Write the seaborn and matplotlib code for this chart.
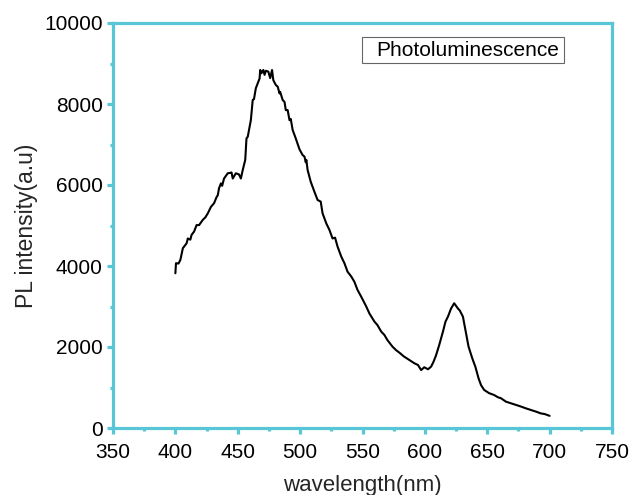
import matplotlib
matplotlib.use("Agg")
import matplotlib.pyplot as plt
import seaborn as sns
import pandas as pd
from matplotlib.patches import Rectangle
from matplotlib.ticker import MultipleLocator

wavelength = [400, 400.5, 402.5, 404, 406, 407, 409, 410, 412, 413, 415, 417, 419, 422, 424, 426,
              428.5, 431, 433, 434, 435, 436.5, 437.5, 438, 439, 442, 444, 445, 446, 448.5, 451,
              452.5, 454, 456, 457, 458, 460.5, 462, 463, 464.5, 466, 467.5, 468, 469, 470.5,
              471.5, 472.5, 474.5, 476, 477.5, 478.5, 480.5, 482, 483.5, 484, 486, 487.5, 488.5,
              490, 491.5, 492.5, 494, 496.5, 499.5, 502, 503.5, 504.5, 505, 506, 508.5, 511.5,
              514, 516.5, 518, 521, 523.5, 526, 528, 530, 533, 535.5, 538, 541, 543.5, 546, 549,
              553, 555.5, 559.5, 562, 565, 567.5, 570, 574, 577, 580, 583, 585.5, 587.5, 591.5,
              594.5, 597, 599.5, 602.5, 605, 607, 609, 611.5, 614.5, 616.5, 618.5, 621, 623.5,
              626.5, 628, 630.5, 632.5, 635, 638, 640.5, 643, 645, 647.5, 651.5, 655.5, 658.5,
              661, 665, 669, 673, 677, 681, 685, 689, 693, 696, 700]
intensity = [3820, 4070, 4060, 4150, 4440, 4480, 4560, 4680, 4650, 4770, 4850, 5010, 5010, 5140,
             5200, 5300, 5460, 5550, 5700, 5750, 5920, 6040, 5980, 6040, 6160, 6290, 6300, 6310,
             6160, 6290, 6260, 6160, 6370, 6620, 7150, 7190, 7600, 8100, 8120, 8390, 8510, 8630,
             8840, 8760, 8840, 8720, 8820, 8800, 8640, 8840, 8590, 8470, 8430, 8260, 8300, 8100,
             8050, 7850, 7850, 7600, 7630, 7360, 7150, 6880, 6740, 6700, 6560, 6620, 6370, 6080,
             5830, 5630, 5590, 5300, 5050, 4890, 4680, 4700, 4480, 4230, 4070, 3860, 3740, 3610,
             3410, 3240, 3000, 2830, 2630, 2540, 2380, 2300, 2170, 2010, 1920, 1850, 1770, 1720,
             1680, 1600, 1555, 1430, 1500, 1450, 1515, 1640, 1800, 2050, 2380, 2625, 2750, 2950,
             3080, 2950, 2900, 2750, 2420, 2010, 1720, 1510, 1230, 1060, 940, 860, 815, 760, 735,
             650, 610, 570, 530, 485, 445, 405, 360, 345, 300]

x_ticks = [350, 400, 450, 500, 550, 600, 650, 700, 750]
y_ticks = [0, 2000, 4000, 6000, 8000, 10000]
legend_label = "Photoluminescence"

df = pd.DataFrame({"wavelength": wavelength, "intensity": intensity})

sns.set_style("white")
plt.rcParams["font.family"] = ["Liberation Sans", "DejaVu Sans"]

spine_color = "#58C6D6"
fig = plt.figure(figsize=(6.3, 4.95), dpi=100)
ax = fig.add_axes([113 / 630, 1 - 428 / 495, 499 / 630, 405 / 495])

sns.lineplot(data=df, x="wavelength", y="intensity", ax=ax, color="black",
             linewidth=1.5, estimator=None, sort=False)

ax.set_xlim(350, 750)
ax.set_ylim(0, 10000)
ax.set_xticks(x_ticks)
ax.set_yticks(y_ticks)
ax.xaxis.set_minor_locator(MultipleLocator(25))
ax.yaxis.set_minor_locator(MultipleLocator(1000))

for s in ax.spines.values():
    s.set_color(spine_color)
    s.set_linewidth(2.3)
    s.set_visible(True)

ax.tick_params(axis="both", which="major", direction="out", length=4.5, width=2.3,
               color=spine_color, labelsize=15, labelcolor="black",
               bottom=True, left=True, top=False, right=False)
ax.tick_params(axis="both", which="minor", direction="out", length=2.5, width=2.3,
               color=spine_color, bottom=True, left=True, top=False, right=False)
ax.tick_params(axis="x", which="major", pad=6)
ax.tick_params(axis="y", which="major", pad=3)

ax.set_xlabel("wavelength(nm)", fontsize=16, labelpad=9.5)
ax.set_ylabel("PL intensity(a.u)", fontsize=16.5, labelpad=4)

ax.add_patch(Rectangle((0.499, 0.9012), 0.405, 0.0642, transform=ax.transAxes,
                       facecolor="white", edgecolor="#666666", linewidth=0.8, zorder=5))
ax.text(0.527, 0.9333, legend_label, transform=ax.transAxes, fontsize=15,
        va="center", ha="left", color="black", zorder=6)

fig.savefig("out.png", dpi=100)
